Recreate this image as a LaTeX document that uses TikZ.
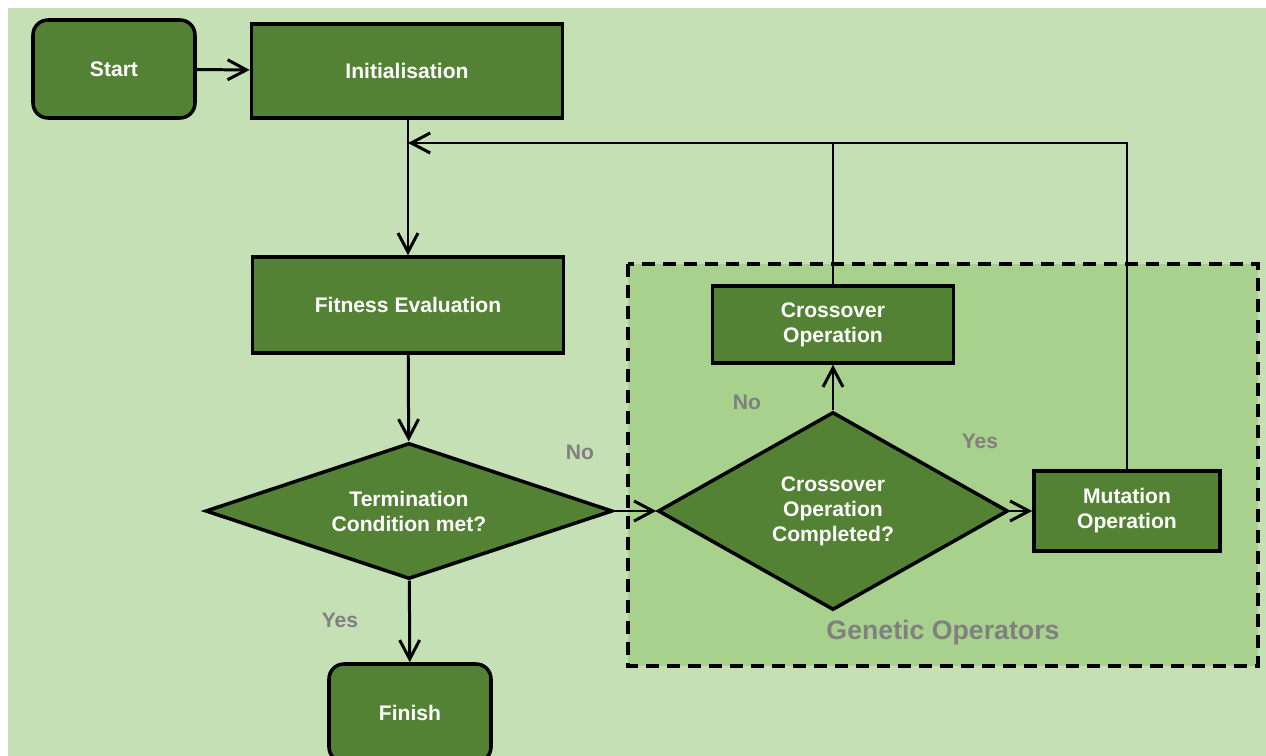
\documentclass[tikz,border=0pt]{standalone}
\usepackage{fontspec}
\setmainfont{Liberation Sans}
\usetikzlibrary{shapes.geometric,arrows.meta}
\definecolor{bggreen}{HTML}{C5E0B4}
\definecolor{opgreen}{HTML}{A9D18E}
\definecolor{boxgreen}{HTML}{548235}
\definecolor{lblgray}{HTML}{808080}
\tikzset{
  box/.style={draw=black,line width=1pt,fill=boxgreen,text=white,font=\fontsize{6}{7.1}\selectfont\bfseries,align=center,inner sep=0pt},
  termbox/.style={box,rounded corners=0.15cm},
  decision/.style={box,diamond},
  lbl/.style={text=lblgray,font=\fontsize{6}{7.1}\selectfont\bfseries},
  arr/.style={line width=0.85pt,-{Straight Barb[length=0.19cm,width=0.2cm,line width=0.85pt]}},
  ln/.style={line width=0.85pt}
}
\begin{document}
\begin{tikzpicture}
\useasboundingbox (0,0) rectangle (12.66,-7.56);
\fill [bggreen](0.08,-0.08) rectangle (12.66,-7.56);
\draw [fill=opgreen,line width=0.95pt,dash pattern=on 0.13cm off 0.08cm](6.28,-2.64) rectangle (12.58,-6.66);
\node [termbox,minimum width=1.62cm,minimum height=0.98cm] (start) at (1.14,-0.69) {Start};
\node [box,minimum width=3.11cm,minimum height=0.94cm] (init) at (4.07,-0.71) {Initialisation};
\node [box,minimum width=3.11cm,minimum height=0.96cm] (fit) at (4.08,-3.05) {Fitness Evaluation};
\node [decision,aspect=3,minimum width=4.07cm,minimum height=1.36cm] (term) at (4.09,-5.11) {Termination\\Condition met?};
\node [termbox,minimum width=1.62cm,minimum height=0.98cm] (finish) at (4.10,-7.13) {Finish};
\node [decision,aspect=1.77,minimum width=3.5cm,minimum height=1.98cm] (cross) at (8.33,-5.11) {Crossover\\Operation\\Completed?};
\node [box,minimum width=2.41cm,minimum height=0.77cm] (crossop) at (8.33,-3.245) {Crossover\\Operation};
\node [box,minimum width=1.86cm,minimum height=0.80cm] (mut) at (11.27,-5.11) {Mutation\\Operation};
\coordinate (fb) at (4.08,-1.43);
\draw [arr](start) -- (init);
\draw [arr](init.south -| fit) -- (fit);
\draw [arr](fit) -- (term);
\draw [arr](term) -- (finish);
\draw [arr](term) -- (cross);
\draw [arr](cross) -- (crossop);
\draw [arr](cross) -- (mut);
\draw [ln](crossop.north) -- (crossop.north |- fb);
\draw [arr](mut.north) |- (fb);
\node [lbl] (lno) at (5.80,-4.52) {No};
\node [lbl] (lyes) at (3.40,-6.20) {Yes};
\node [lbl] (cno) at (7.47,-4.02) {No};
\node [lbl] (cyes) at (9.80,-4.41) {Yes};
\node [lbl,font=\fontsize{7.6}{9}\selectfont\bfseries] (gen) at (9.43,-6.33) {Genetic Operators};
\end{tikzpicture}
\end{document}
